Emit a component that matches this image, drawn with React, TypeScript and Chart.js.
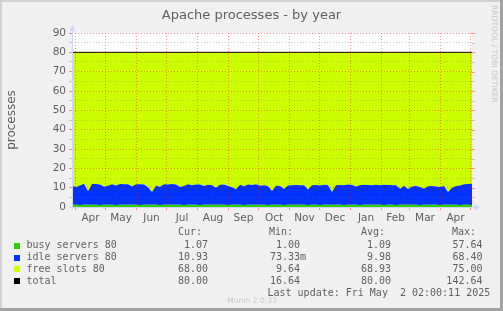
import React, { useEffect, useRef } from "react";
import { Chart, registerables } from "chart.js";

Chart.register(...registerables);

// ---- data ----
const TITLE = "Apache processes - by year";
const Y_TITLE = "processes";
const monthLabels = ["Apr", "May", "Jun", "Jul", "Aug", "Sep", "Oct", "Nov", "Dec", "Jan", "Feb", "Mar", "Apr"];
// days since window start (Mar 28 2024) of each month's first day
const monthStarts = [3.5, 33.5, 64.5, 94.5, 125.5, 156.5, 186.5, 217.5, 247.5, 278.5, 309.5, 337.5, 368.5, 398.5];
const windowDays = 400;
const sampleStep = 4; // days between samples

const busy = [
  1.1, 1.1, 1.0, 1.1, 1.1, 1.2, 1.1, 1.0, 1.1, 1.1,
  1.1, 1.0, 1.1, 1.1, 1.2, 1.1, 1.1, 1.0, 1.1, 1.1,
  1.1, 1.1, 1.0, 1.1, 1.1, 1.1, 1.2, 1.1, 1.0, 1.1,
  1.1, 1.1, 1.0, 1.1, 1.1, 1.1, 1.1, 1.2, 1.1, 1.0,
  1.1, 1.1, 1.1, 1.0, 1.1, 1.1, 1.2, 1.1, 1.1, 1.0,
  1.1, 1.1, 1.1, 1.0, 1.1, 1.1, 1.1, 1.2, 1.1, 1.0,
  1.1, 1.1, 1.0, 1.1, 1.1, 1.1, 1.2, 1.1, 1.0, 1.1,
  1.1, 1.1, 1.0, 1.1, 1.1, 1.2, 1.1, 1.1, 1.0, 1.1,
  1.1, 1.0, 1.1, 1.1, 1.2, 1.1, 1.1, 1.0, 1.1, 1.1,
  1.1, 1.1, 1.0, 1.1, 1.1, 1.2, 1.1, 1.0, 1.1, 1.1,
  1.07,
];

const idle = [
  9.9, 9.3, 10.1, 10.9, 7.0, 10.7, 10.8, 10.7, 9.4, 9.9,
  10.7, 10.1, 10.8, 10.7, 10.6, 9.5, 10.7, 10.8, 10.5, 9.1,
  6.7, 9.9, 9.5, 10.7, 10.6, 10.8, 10.4, 9.3, 9.9, 10.7,
  10.2, 10.5, 10.7, 9.7, 10.4, 10.1, 8.9, 10.3, 10.5, 9.9,
  9.1, 8.1, 10.4, 9.7, 10.5, 10.3, 10.6, 9.9, 10.1, 9.7,
  7.2, 9.9, 9.8, 8.3, 10.0, 10.2, 10.3, 10.1, 10.2, 8.1,
  10.2, 10.3, 10.1, 10.4, 10.2, 6.7, 10.1, 10.3, 10.2, 10.5,
  10.3, 9.5, 10.2, 10.4, 10.3, 10.1, 10.4, 10.2, 10.5, 10.3,
  10.1, 10.2, 8.4, 9.9, 8.1, 9.5, 9.7, 9.4, 8.4, 9.6,
  9.8, 9.5, 9.3, 9.7, 6.7, 8.7, 9.7, 10.1, 10.7, 10.8,
  10.9,
];

const totalValue = [80, 80]; // at window start and end

// legend table
const seriesNames = ["busy servers 80", "idle servers 80", "free slots 80", "total"];
const seriesColors = ["#33CC00", "#0033FF", "#CCFF00", "#000000"];
const curValues = ["1.07 ", "10.93 ", "68.00 ", "80.00 "];
const minValues = ["1.00 ", "73.33m", "9.64 ", "16.64 "];
const avgValues = ["1.09 ", "9.98 ", "68.93 ", "80.00 "];
const maxValues = ["57.64 ", "68.40 ", "75.00 ", "142.64 "];
const LAST_UPDATE = "Last update: Fri May  2 02:00:11 2025";
const WATERMARK = "Munin 2.0.33";
const RRD_TEXT = "RRDTOOL / TOBI OETIKER";

// ---- styling ----
const FONT = "'DejaVu Sans', sans-serif";
const MONO = "'DejaVu Sans Mono', monospace";
const TEXT = "#5f5f5f";
const MAJOR = "rgba(255,0,0,0.4)";
const MINOR = "rgba(120,120,120,0.38)";
const AXIS = "#CFD6F8";

const monthMids = monthLabels.map((_, i) => (monthStarts[i] + monthStarts[i + 1]) / 2);

const pts = (arr: number[]) => arr.map((v, i) => ({ x: i * sampleStep, y: v }));

const decor = {
  id: "decor",
  beforeDraw(chart: any) {
    const { ctx, chartArea: a, width, height } = chart;
    ctx.save();
    ctx.fillStyle = "#F0F0F0";
    ctx.fillRect(0, 0, width, height);
    ctx.fillStyle = "#FFFFFF";
    ctx.fillRect(a.left, a.top, a.right - a.left, a.bottom - a.top);
    ctx.restore();
  },
  afterDraw(chart: any) {
    const { ctx, chartArea: a, width, height } = chart;
    const ys = chart.scales.y;
    ctx.save();
    // right-side ticks
    for (let v = 0; v <= 90; v += 5) {
      const y = Math.round(ys.getPixelForValue(v)) + 0.5;
      ctx.strokeStyle = v % 10 === 0 ? MAJOR : MINOR;
      ctx.lineWidth = 1;
      ctx.beginPath();
      ctx.moveTo(a.right, y);
      ctx.lineTo(a.right + 3, y);
      ctx.stroke();
    }
    // axes with arrows
    ctx.strokeStyle = AXIS;
    ctx.fillStyle = AXIS;
    ctx.lineWidth = 1;
    const ax = a.left + 0.5;
    const ay = a.bottom + 0.5;
    ctx.beginPath();
    ctx.moveTo(ax, a.bottom + 3);
    ctx.lineTo(ax, a.top - 3);
    ctx.moveTo(a.left - 3, ay);
    ctx.lineTo(a.right + 3, ay);
    ctx.stroke();
    ctx.beginPath();
    ctx.moveTo(ax, a.top - 8);
    ctx.lineTo(ax - 3, a.top - 2);
    ctx.lineTo(ax + 3, a.top - 2);
    ctx.closePath();
    ctx.fill();
    ctx.beginPath();
    ctx.moveTo(a.right + 8, ay);
    ctx.lineTo(a.right + 2, ay - 3);
    ctx.lineTo(a.right + 2, ay + 3);
    ctx.closePath();
    ctx.fill();

    // title
    ctx.fillStyle = TEXT;
    ctx.font = `13px ${FONT}`;
    ctx.textAlign = "center";
    ctx.textBaseline = "alphabetic";
    ctx.fillText(TITLE, 251.5, 18.5);

    // y title
    ctx.save();
    ctx.translate(12, 120);
    ctx.rotate(-Math.PI / 2);
    ctx.font = `12px ${FONT}`;
    ctx.textBaseline = "middle";
    ctx.fillText(Y_TITLE, 0, 0);
    ctx.restore();

    // rrdtool vertical text
    ctx.save();
    ctx.translate(493.5, 5);
    ctx.rotate(Math.PI / 2);
    ctx.font = `7.6px ${FONT}`;
    ctx.fillStyle = "#C4C4C4";
    ctx.textAlign = "left";
    ctx.textBaseline = "middle";
    ctx.fillText(RRD_TEXT, 0, 0);
    ctx.restore();

    // legend table
    ctx.font = `10px ${MONO}`;
    ctx.textBaseline = "middle";
    ctx.fillStyle = TEXT;
    ctx.textAlign = "left";
    const headY = 232.5;
    ctx.fillText("Cur:", 178, headY);
    ctx.fillText("Min:", 269, headY);
    ctx.fillText("Avg:", 361, headY);
    ctx.fillText("Max:", 452, headY);
    const rowYs = [245.5, 257.5, 269.3, 281.3];
    seriesNames.forEach((name, i) => {
      const y = rowYs[i];
      ctx.fillStyle = seriesColors[i];
      ctx.fillRect(14, Math.round(y) - 3, 6, 6);
      ctx.fillStyle = TEXT;
      ctx.textAlign = "left";
      ctx.fillText(name, 26.5, y);
      ctx.textAlign = "right";
      ctx.fillText(curValues[i], 214, y);
      ctx.fillText(minValues[i], 306, y);
      ctx.fillText(avgValues[i], 397, y);
      ctx.fillText(maxValues[i], 488.5, y);
    });
    ctx.textAlign = "left";
    ctx.fillText(LAST_UPDATE, 267.5, 293.5);

    // watermark
    ctx.font = `7.6px ${FONT}`;
    ctx.fillStyle = "#C8C8C8";
    ctx.textAlign = "center";
    ctx.fillText(WATERMARK, 252, 301);

    // frame
    ctx.fillStyle = "#D2D2D2";
    ctx.fillRect(0, 0, width, 2);
    ctx.fillRect(0, 0, 2, height);
    ctx.fillStyle = "#A2A2A2";
    ctx.fillRect(width - 3, 0, 3, height);
    ctx.fillRect(0, height - 3, width, 3);
    ctx.restore();
  },
};

export default function App() {
  const ref = useRef<HTMLCanvasElement | null>(null);

  useEffect(() => {
    document.body.style.margin = "0";
    const canvas = ref.current;
    if (!canvas) return;
    const chart = new Chart(canvas, {
      type: "line",
      data: {
        datasets: [
          {
            label: seriesNames[0],
            data: pts(busy),
            backgroundColor: seriesColors[0],
            borderColor: "transparent",
            borderWidth: 0,
            fill: "origin",
            pointRadius: 0,
            stack: "procs",
          },
          {
            label: seriesNames[1],
            data: pts(idle),
            backgroundColor: seriesColors[1],
            borderColor: "transparent",
            borderWidth: 0,
            fill: "-1",
            pointRadius: 0,
            stack: "procs",
          },
          {
            label: seriesNames[3],
            data: [
              { x: 0, y: totalValue[0] },
              { x: windowDays, y: totalValue[1] },
            ],
            backgroundColor: seriesColors[2],
            borderColor: seriesColors[3],
            borderWidth: 1,
            fill: "-1",
            pointRadius: 0,
            stack: "total",
          },
        ],
      },
      options: {
        responsive: false,
        animation: false,
        events: [],
        layout: { padding: { left: 0, right: 31, top: 33, bottom: 0 } },
        plugins: { legend: { display: false }, tooltip: { enabled: false }, title: { display: false } },
        elements: { line: { tension: 0 } },
        scales: {
          x: {
            type: "linear",
            min: 0,
            max: windowDays,
            afterFit: (s: any) => {
              s.height = 104;
            },
            afterBuildTicks: (s: any) => {
              const t = [...monthStarts, ...monthMids].sort((p, q) => p - q);
              s.ticks = t.map((value) => ({ value }));
            },
            border: { display: false, dash: [1, 2] },
            grid: {
              z: 1,
              color: (c: any) => (monthStarts.includes(c.tick?.value) ? MAJOR : "rgba(0,0,0,0)"),
              tickColor: (c: any) => (monthStarts.includes(c.tick?.value) ? MAJOR : "rgba(0,0,0,0)"),
              tickLength: 3,
              lineWidth: 1,
            },
            ticks: {
              autoSkip: false,
              maxRotation: 0,
              minRotation: 0,
              padding: 2,
              color: TEXT,
              font: { family: "DejaVu Sans", size: 10.5 },
              callback: (v: any) => {
                const i = monthMids.indexOf(v);
                return i >= 0 ? monthLabels[i] : "";
              },
            },
          },
          y: {
            type: "linear",
            stacked: true,
            min: 0,
            max: 90,
            afterFit: (s: any) => {
              s.width = 72;
            },
            border: { display: false, dash: [1, 2] },
            grid: {
              z: 1,
              color: (c: any) => (c.tick && c.tick.value % 10 === 0 ? MAJOR : MINOR),
              tickColor: (c: any) => (c.tick && c.tick.value % 10 === 0 ? MAJOR : MINOR),
              tickLength: 3,
              lineWidth: 1,
            },
            ticks: {
              stepSize: 5,
              autoSkip: false,
              padding: 3,
              color: TEXT,
              font: { family: "DejaVu Sans", size: 10.5 },
              callback: (v: any) => (Number(v) % 10 === 0 ? String(v) : ""),
            },
          },
        },
      },
      plugins: [decor],
    } as any);
    return () => chart.destroy();
  }, []);

  return (
    <div style={{ position: "absolute", left: 0, top: 0, width: 503, height: 311 }}>
      <canvas ref={ref} width={503} height={311} style={{ display: "block" }} />
    </div>
  );
}
